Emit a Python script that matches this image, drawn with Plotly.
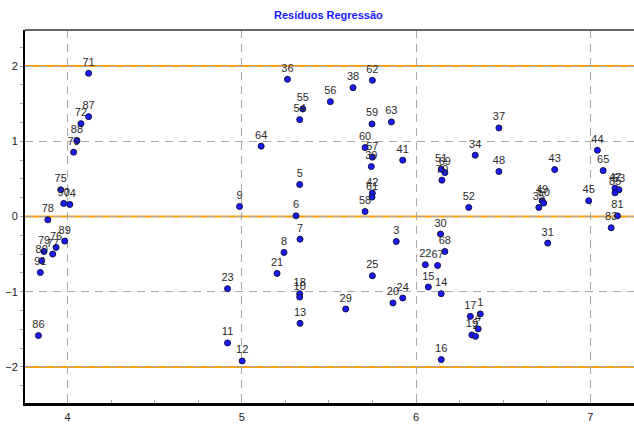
import plotly.graph_objects as go

obs = [71, 87, 72, 88, 73, 75, 90, 74, 78, 89, 76, 79, 77, 80, 91, 86,
       36, 55, 54, 56, 64, 5, 9, 6, 58, 7, 8, 21, 23, 18, 10, 13, 29, 11, 12,
       38, 62, 59, 63, 60, 57, 39, 41, 42, 61, 51, 69, 70,
       3, 30, 68, 22, 67, 15, 14, 20, 24, 25, 17, 1, 4, 19, 2, 16, 52,
       37, 34, 48, 44, 43, 65, 45, 47, 53, 85, 81, 83, 31, 35, 49, 50]
fitted = [4.121, 4.121, 4.077, 4.054, 4.035, 3.961, 3.978, 4.013, 3.887, 3.984, 3.934, 3.865, 3.915, 3.852, 3.844, 3.833,
          5.262, 5.350, 5.332, 5.508, 5.111, 5.332, 4.987, 5.311, 5.707, 5.334, 5.242, 5.202, 4.918, 5.332, 5.332, 5.334, 5.596, 4.918, 5.002,
          5.638, 5.749, 5.747, 5.858, 5.707, 5.749, 5.743, 5.923, 5.749, 5.747, 6.144, 6.165, 6.148,
          5.886, 6.140, 6.165, 6.053, 6.123, 6.070, 6.144, 5.867, 5.923, 5.749, 6.311, 6.368, 6.356, 6.320, 6.341, 6.144, 6.302,
          6.475, 6.339, 6.475, 7.040, 6.795, 7.073, 6.990, 7.141, 7.164, 7.141, 7.155, 7.119, 6.755, 6.704, 6.723, 6.732]
residual = [1.904, 1.328, 1.235, 1.009, 0.855, 0.355, 0.173, 0.160, -0.044, -0.327, -0.411, -0.465, -0.500, -0.588, -0.744, -1.584,
            1.825, 1.430, 1.288, 1.527, 0.935, 0.425, 0.133, 0.009, 0.066, -0.301, -0.478, -0.757, -0.960, -1.027, -1.071, -1.421, -1.230, -1.682, -1.921,
            1.713, 1.811, 1.231, 1.258, 0.917, 0.789, 0.664, 0.749, 0.311, 0.258, 0.629, 0.584, 0.483,
            -0.332, -0.234, -0.465, -0.641, -0.651, -0.938, -1.027, -1.150, -1.084, -0.788, -1.328, -1.296, -1.495, -1.575, -1.594, -1.903, 0.120,
            1.178, 0.815, 0.598, 0.881, 0.624, 0.611, 0.209, 0.377, 0.355, 0.315, 0.009, -0.150, -0.354, 0.120, 0.209, 0.178]

ORANGE = "#ffa000"
GRID = "#a8a8a8"
FONT = "Liberation Sans, Arial, sans-serif"

fig = go.Figure(
    go.Scatter(
        x=fitted,
        y=residual,
        mode="markers+text",
        text=[str(o) for o in obs],
        textposition="top center",
        textfont=dict(size=11, color="#2a2a2a", family=FONT),
        marker=dict(size=6, color="#1a1aff", line=dict(color="#101040", width=1)),
        cliponaxis=False,
        showlegend=False,
    )
)

for level in (-2, 0, 2):
    fig.add_shape(type="line", xref="paper", x0=0, x1=1, yref="y", y0=level, y1=level,
                  line=dict(color=ORANGE, width=2), layer="below")
fig.add_shape(type="line", xref="paper", x0=0, x1=1, yref="paper", y0=1, y1=1,
              line=dict(color="#333333", width=1.5))

fig.update_layout(
    width=634,
    height=425,
    margin=dict(l=25, r=0, t=30, b=22, autoexpand=False),
    paper_bgcolor="white",
    plot_bgcolor="white",
    font=dict(family=FONT, size=11, color="#222222"),
    title=dict(text="<b>Resíduos Regressão</b>", x=0.518, xanchor="center",
               y=1 - 15 / 425, yanchor="middle", automargin=False,
               font=dict(size=11, color="#1a1aff", family=FONT)),
)
fig.update_xaxes(
    range=[3.756, 7.25],
    tickvals=[4, 5, 6, 7],
    showgrid=True, gridcolor=GRID, griddash="8px,6px", gridwidth=1,
    zeroline=False, automargin=False,
    showline=True, linecolor="black", linewidth=3,
    ticks="", ticklabelstandoff=2,
    minor=dict(dtick=0.25, ticks="inside", ticklen=3, tickcolor=GRID, showgrid=False),
)
fig.update_yaxes(
    range=[-2.48, 2.48],
    tickvals=[-2, -1, 0, 1, 2],
    showgrid=True, gridcolor=GRID, griddash="8px,6px", gridwidth=1,
    zeroline=False, automargin=False,
    showline=True, linecolor="black", linewidth=2,
    ticks="outside", ticklen=3, tickcolor=GRID,
    minor=dict(dtick=0.25, ticks="outside", ticklen=3, tickcolor=GRID, showgrid=False),
)

# the page body has a default 8px margin; drop it so the figure fills the window
fig.write_html("out.html", config={"displayModeBar": False},
               post_script="document.body.style.margin = '0';")
